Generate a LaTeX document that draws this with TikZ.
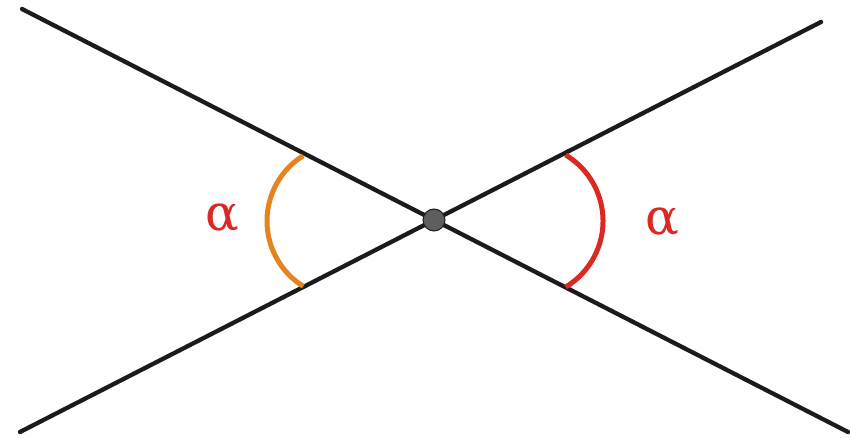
\documentclass[tikz,border=0pt]{standalone}
\usepackage{fontspec}
\newfontfamily\alphafont{DejaVu Serif}
\definecolor{lineblack}{HTML}{1C1A1A}
\definecolor{arcorange}{HTML}{E8821E}
\definecolor{arcred}{HTML}{DC2822}
\definecolor{dotgray}{HTML}{5E5E5E}
\begin{document}
\begin{tikzpicture}[x=1pt,y=1pt,
  ray/.style={draw=lineblack,line width=4.3pt,line cap=round},
  anglearc/.style={line width=5pt},
  anglelabel/.style={text=arcred,font=\alphafont\fontsize{50}{50}\selectfont,inner sep=0pt},
  hub/.style={circle,draw=lineblack,fill=dotgray,line width=1pt,minimum size=22pt,inner sep=0pt}]
\useasboundingbox (0,0) rectangle (850,438);
\coordinate (tl) at (22,429);
\coordinate (br) at (848,6);
\coordinate (bl) at (20,6);
\coordinate (tr) at (821,416);
\draw[ray] (tl) -- (br);
\draw[ray] (bl) -- (tr);
\draw[anglearc,arcorange] (344,217) ++(122:77) arc[start angle=122,end angle=238,radius=77];
\draw[anglearc,arcred] (526,217) ++(59:77) arc[start angle=59,end angle=-59,radius=77];
\node[hub] (c) at (434,218) {};
\node[anglelabel] (la) at (222,220) {α};
\node[anglelabel] (ra) at (662,216) {α};
\end{tikzpicture}
\end{document}
